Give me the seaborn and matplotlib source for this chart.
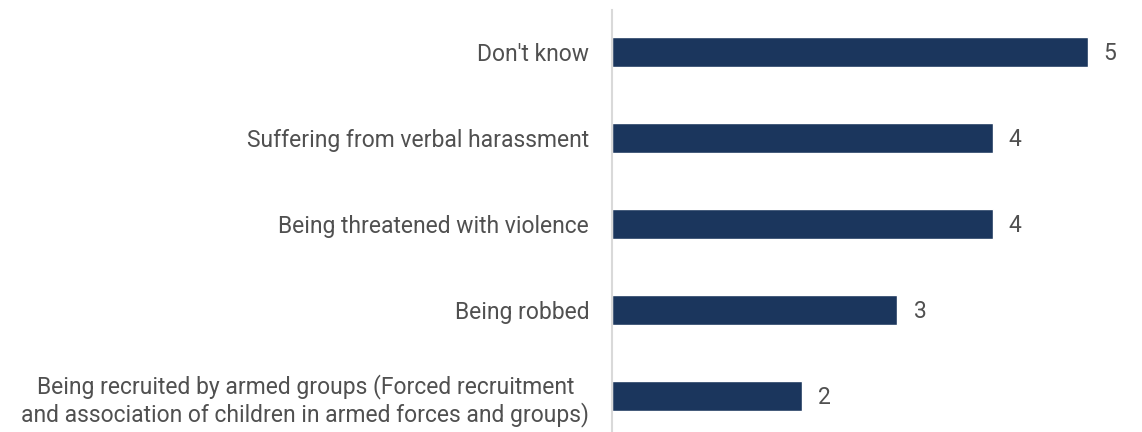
import matplotlib
matplotlib.use("Agg")
import matplotlib.pyplot as plt
import seaborn as sns
import pandas as pd

categories = [
    "Don't know",
    "Suffering from verbal harassment",
    "Being threatened with violence",
    "Being robbed",
    "Being recruited by armed groups (Forced recruitment\nand association of children in armed forces and groups)",
]
values = [5, 4, 4, 3, 2]

df = pd.DataFrame({"category": categories, "value": values})

sns.set_theme(style="white")
plt.rcParams["font.family"] = ["Roboto", "DejaVu Sans"]

text_color = "#505050"
bar_color = "#1b365d"

fig = plt.figure(figsize=(11.42, 4.32), dpi=100)
ax = fig.add_axes([0.536, 0.0, 0.458, 0.977])

sns.barplot(data=df, x="value", y="category", orient="h", color=bar_color,
            width=0.35, saturation=1, ax=ax)

for patch, v in zip(ax.patches, values):
    y = patch.get_y() + patch.get_height() / 2
    ax.text(v + 0.17, y + 0.02, f"{v}", va="center", ha="left",
            fontsize=16.5, color=text_color)

ax.set_xlim(0, 5.5)
ax.set_ylim(4.42, -0.49)
ax.set_xlabel("")
ax.set_ylabel("")
ax.set_xticks([])
ax.tick_params(axis="y", length=0, pad=16.5, labelsize=16.5, labelcolor=text_color)
for lbl in ax.get_yticklabels():
    lbl.set_horizontalalignment("right")
    lbl.set_multialignment("center")

for side in ["top", "right", "bottom"]:
    ax.spines[side].set_visible(False)
ax.spines["left"].set_color("#d9d9d9")
ax.spines["left"].set_linewidth(1.5)

fig.savefig("out.png", dpi=100)
